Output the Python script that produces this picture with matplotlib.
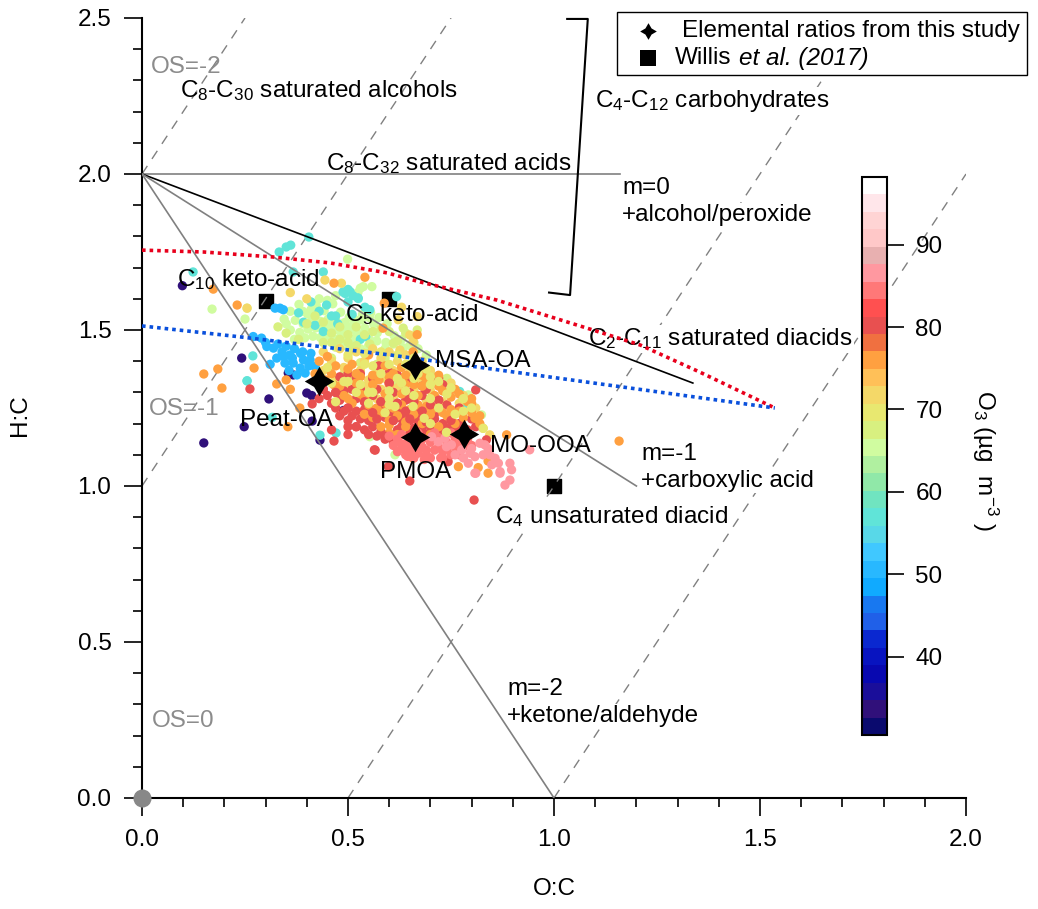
import numpy as np
import matplotlib
matplotlib.use('Agg')
import matplotlib.pyplot as plt
from matplotlib.colors import ListedColormap, Normalize
from matplotlib.patches import Rectangle
from matplotlib.path import Path
from matplotlib.ticker import MultipleLocator

plt.rcParams['font.family'] = ['Liberation Sans', 'DejaVu Sans']
plt.rcParams['mathtext.fontset'] = 'custom'
plt.rcParams['mathtext.rm'] = 'Liberation Sans'
plt.rcParams['mathtext.it'] = 'Liberation Sans:italic'
plt.rcParams['mathtext.default'] = 'regular'

# colour table, bottom to top
band_colors = ['#0a0a6e', '#30107a', '#1a0e9a', '#0808b0', '#0814c0', '#0a28d0', '#2060e8', '#1878f0',
               '#10aaff', '#28b8ff', '#40c8ff', '#58d8e8', '#60e4d8', '#70e4c0', '#90e8a8', '#b0f0a0',
               '#d0fca0', '#d8f080', '#e8e870', '#f4d868', '#ffc058', '#ffa040', '#f07040', '#e85050',
               '#ff5050', '#ff7878', '#ff98a0', '#e8b0b0', '#ffc8c8', '#ffd4d4', '#ffe6ea', '#ffffff']
o3_min = 30.5
o3_max = 98.2

# van Krevelen reference lines
m0_oc = [0, 1.16]
m0_hc = [2, 2]
m05_oc = [0, 1.337]
m05_hc = [2, 1.33]
m1_oc = [0, 1.2]
m1_hc = [2, 1.0]
m2_oc = [0, 1.0]
m2_hc = [2, 0.0]
os_lines_oc = [[0, 0.25], [0, 0.75], [0.5, 1.75], [1.0, 2.0]]
os_lines_hc = [[2, 2.5], [1, 2.5], [0, 2.5], [0, 2.0]]
bracket_oc = [1.032, 1.082, 1.039, 0.988]
bracket_hc = [2.497, 2.497, 1.612, 1.62]

red_oc = [0, 0.15, 0.318, 0.456, 0.595, 0.675, 0.861, 1.08, 1.209, 1.354, 1.536]
red_hc = [1.756, 1.75, 1.734, 1.715, 1.683, 1.654, 1.596, 1.506, 1.452, 1.365, 1.25]
blue_oc = [0, 0.238, 0.602, 1.08, 1.536]
blue_hc = [1.513, 1.478, 1.42, 1.333, 1.25]

star_oc = [0.43, 0.663, 0.663, 0.782]
star_hc = [1.337, 1.388, 1.157, 1.167]
willis_oc = [0.3, 0.6, 1.0]
willis_hc = [1.593, 1.6, 1.0]

# measured points, grouped by O3 level, in drawing order
oc_navy = [0.098, 0.242, 0.308, 0.15, 0.248, 0.413, 0.432, 0.355, 0.367, 0.4, 0.412, 0.489]
hc_navy = [1.642, 1.41, 1.279, 1.138, 1.19, 1.208, 1.147, 1.362, 1.356, 1.298, 1.29, 1.242]

oc_teal = [0.405, 0.333, 0.35, 0.361, 0.44, 0.367, 0.124, 0.255, 0.269, 0.488, 0.5, 0.512, 0.524, 0.505, 0.493,
           0.448, 0.541, 0.553, 0.541, 0.543, 0.618, 0.38, 0.41, 0.43, 0.46, 0.475, 0.392, 0.42, 0.525, 0.5,
           0.771, 0.78, 0.432, 0.471, 0.316, 0.255, 0.44, 0.47, 0.51, 0.53]
hc_teal = [1.798, 1.75, 1.766, 1.772, 1.686, 1.686, 1.686, 1.337, 1.417, 1.622, 1.63, 1.61, 1.603, 1.623, 1.617,
           1.58, 1.48, 1.565, 1.573, 1.479, 1.607, 1.555, 1.59, 1.56, 1.545, 1.52, 1.525, 1.515, 1.601, 1.59,
           1.303, 1.26, 1.163, 1.17, 1.22, 1.337, 1.495, 1.545, 1.55, 1.47]

oc_green = [0.36, 0.381, 0.402, 0.423, 0.442, 0.463, 0.482, 0.503, 0.372, 0.391, 0.413, 0.432, 0.452, 0.471, 0.492,
            0.513, 0.532, 0.552, 0.383, 0.403, 0.422, 0.443, 0.461, 0.481, 0.502, 0.521, 0.541, 0.562, 0.433, 0.451,
            0.472, 0.491, 0.512, 0.531, 0.553, 0.571, 0.592, 0.612, 0.634, 0.255, 0.25, 0.17, 0.53, 0.558, 0.499,
            0.824, 0.792, 0.614, 0.553, 0.537, 0.524, 0.345, 0.36, 0.37, 0.39, 0.41, 0.43, 0.45, 0.47, 0.35, 0.395,
            0.415, 0.435, 0.455, 0.475, 0.495, 0.515, 0.535, 0.555, 0.575, 0.595, 0.49, 0.51, 0.53, 0.55, 0.57,
            0.59, 0.61, 0.63, 0.65, 0.67, 0.69]
hc_green = [1.56, 1.582, 1.551, 1.578, 1.562, 1.584, 1.557, 1.541, 1.531, 1.52, 1.533, 1.528, 1.535, 1.529, 1.524,
            1.518, 1.532, 1.54, 1.492, 1.503, 1.507, 1.498, 1.505, 1.495, 1.5, 1.493, 1.506, 1.52, 1.476, 1.483,
            1.47, 1.478, 1.47, 1.476, 1.468, 1.491, 1.46, 1.482, 1.443, 1.57, 1.535, 1.567, 1.634, 1.639, 1.727,
            1.228, 1.292, 1.1, 1.158, 1.639, 1.62, 1.535, 1.5, 1.47, 1.56, 1.565, 1.6, 1.595, 1.61, 1.52, 1.475,
            1.48, 1.51, 1.52, 1.505, 1.51, 1.535, 1.55, 1.555, 1.54, 1.52, 1.45, 1.455, 1.44, 1.45, 1.465,
            1.44, 1.455, 1.47, 1.45, 1.44, 1.42]

oc_blue = [0.27, 0.29, 0.303, 0.319, 0.327, 0.311, 0.347, 0.367, 0.392, 0.384, 0.408, 0.359, 0.34, 0.42, 0.376, 0.357,
           0.396, 0.343, 0.335, 0.323, 0.3, 0.33, 0.35, 0.37, 0.39, 0.41, 0.345, 0.365, 0.385, 0.405]
hc_blue = [1.479, 1.474, 1.447, 1.442, 1.41, 1.39, 1.394, 1.394, 1.404, 1.378, 1.404, 1.42, 1.43, 1.383, 1.356, 1.37,
           1.362, 1.565, 1.57, 1.57, 1.46, 1.455, 1.448, 1.44, 1.43, 1.425, 1.415, 1.41, 1.425, 1.385]

oc_lime = [0.47, 0.51, 0.55, 0.59, 0.46, 0.53, 0.57, 0.65, 0.49, 0.61, 0.634, 0.668, 0.61, 0.553, 0.7, 0.74, 0.73, 0.66,
           0.38, 0.33, 0.35, 0.4, 0.42, 0.44, 0.46, 0.48, 0.5, 0.52, 0.54, 0.56, 0.58, 0.6, 0.62, 0.64, 0.66, 0.44,
           0.46, 0.48, 0.5, 0.52]
hc_lime = [1.445, 1.44, 1.425, 1.41, 1.41, 1.395, 1.39, 1.39, 1.36, 1.335, 1.506, 1.5, 1.458, 1.455, 1.36, 1.345, 1.305, 1.3,
           1.47, 1.51, 1.49, 1.52, 1.545, 1.525, 1.49, 1.51, 1.485, 1.51, 1.485, 1.495, 1.505, 1.495, 1.465, 1.49, 1.46, 1.46,
           1.46, 1.47, 1.46, 1.45]

oc_yellow = [0.44, 0.48, 0.52, 0.56, 0.6, 0.64, 0.46, 0.5, 0.54, 0.58, 0.62, 0.68, 0.44, 0.49, 0.53, 0.57, 0.61, 0.65,
             0.7, 0.47, 0.51, 0.55, 0.59, 0.63, 0.67, 0.71, 0.75, 0.5, 0.54, 0.58, 0.62, 0.66, 0.7, 0.74, 0.78, 0.57,
             0.61, 0.65, 0.69, 0.73, 0.77, 0.81, 0.255, 0.444, 0.63, 0.668, 0.622, 0.65, 0.658, 0.626, 0.776, 0.828,
             0.844, 0.36, 0.4, 0.484]
hc_yellow = [1.43, 1.44, 1.43, 1.44, 1.43, 1.42, 1.4, 1.41, 1.4, 1.41, 1.4, 1.4, 1.37, 1.38, 1.37, 1.375, 1.37, 1.365,
             1.37, 1.345, 1.35, 1.34, 1.345, 1.34, 1.335, 1.34, 1.33, 1.31, 1.32, 1.31, 1.315, 1.31, 1.305, 1.3, 1.29,
             1.28, 1.285, 1.28, 1.275, 1.27, 1.265, 1.25, 1.57, 1.66, 1.573, 1.543, 1.533, 1.484, 1.463, 1.436, 1.239,
             1.185, 1.164, 1.62, 1.6, 1.65]

oc_orange = [0.45, 0.47, 0.51, 0.55, 0.59, 0.63, 0.67, 0.72, 0.46, 0.52, 0.56, 0.6, 0.64, 0.68, 0.48, 0.52, 0.56, 0.6,
             0.64, 0.68, 0.72, 0.76, 0.49, 0.53, 0.59, 0.63, 0.67, 0.71, 0.75, 0.79, 0.51, 0.55, 0.59, 0.63, 0.67, 0.71,
             0.75, 0.54, 0.58, 0.62, 0.66, 0.7, 0.74, 0.78, 0.6, 0.64, 0.82, 0.173, 0.231, 0.15, 0.184, 0.194, 0.272,
             0.327, 0.354, 0.383, 0.35, 0.36, 0.466, 0.541, 0.588, 0.585, 0.668, 0.658, 0.8, 0.808, 0.885, 0.658,
             1.158, 0.84, 0.84, 0.768, 0.816, 0.43, 0.42, 0.445, 0.465, 0.5, 0.53, 0.575, 0.61, 0.66, 0.69, 0.73, 0.77,
             0.8, 0.5, 0.54, 0.57, 0.61, 0.65, 0.69, 0.73, 0.77, 0.8, 0.56, 0.6, 0.64, 0.68, 0.72, 0.76, 0.62, 0.66,
             0.7, 0.58, 0.6, 0.82]
hc_orange = [1.415, 1.385, 1.39, 1.42, 1.385, 1.38, 1.38, 1.355, 1.36, 1.36, 1.355, 1.35, 1.355, 1.355, 1.32, 1.33,
             1.325, 1.325, 1.325, 1.32, 1.32, 1.31, 1.29, 1.295, 1.295, 1.295, 1.29, 1.29, 1.285, 1.27, 1.265, 1.26,
             1.265, 1.26, 1.26, 1.25, 1.245, 1.23, 1.235, 1.225, 1.23, 1.23, 1.225, 1.22, 1.195, 1.19, 1.2, 1.631, 1.58,
             1.359, 1.375, 1.314, 1.378, 1.327, 1.19, 1.25, 1.34, 1.31, 1.65, 1.669, 1.586, 1.506, 1.485, 1.089, 1.265,
             1.217, 1.164, 1.43, 1.144, 1.041, 1.08, 1.062, 1.059, 1.4, 1.36, 1.34, 1.325, 1.375, 1.35, 1.34, 1.36, 1.325,
             1.34, 1.305, 1.295, 1.28, 1.28, 1.28, 1.25, 1.25, 1.245, 1.255, 1.235, 1.24, 1.235, 1.22, 1.21, 1.205, 1.2,
             1.19, 1.2, 1.165, 1.165, 1.165, 1.19, 1.17, 1.225]

oc_red = [0.44, 0.47, 0.43, 0.46, 0.48, 0.5, 0.52, 0.54, 0.56, 0.58, 0.6, 0.62, 0.64, 0.66, 0.68, 0.7, 0.72, 0.74, 0.52,
          0.54, 0.56, 0.58, 0.6, 0.62, 0.64, 0.66, 0.68, 0.72, 0.55, 0.57, 0.59, 0.61, 0.63, 0.65, 0.67, 0.69, 0.71, 0.73,
          0.75, 0.77, 0.54, 0.56, 0.58, 0.62, 0.66, 0.68, 0.7, 0.72, 0.74, 0.76, 0.48, 0.5, 0.52, 0.46, 0.5, 0.6, 0.56,
          0.52, 0.48, 0.65, 0.62, 0.262, 0.413, 0.466, 0.566, 0.564, 0.598, 0.65, 0.806, 0.743, 0.836, 0.81, 0.72, 0.68,
          0.45, 0.49, 0.51, 0.53, 0.47, 0.49, 0.51, 0.53, 0.5, 0.55, 0.57, 0.61, 0.63, 0.65, 0.67, 0.69, 0.71, 0.55,
          0.57, 0.59, 0.61, 0.63, 0.65, 0.69, 0.71, 0.73, 0.75, 0.77, 0.79, 0.57, 0.61, 0.65, 0.69, 0.73, 0.53, 0.575,
          0.6, 0.5, 0.77, 0.8, 0.81]
hc_red = [1.31, 1.3, 1.28, 1.265, 1.275, 1.25, 1.28, 1.27, 1.29, 1.27, 1.28, 1.265, 1.275, 1.27, 1.29, 1.26, 1.275, 1.26,
          1.24, 1.245, 1.235, 1.25, 1.24, 1.245, 1.24, 1.245, 1.24, 1.245, 1.21, 1.215, 1.22, 1.21, 1.215, 1.21, 1.205,
          1.21, 1.215, 1.2, 1.21, 1.2, 1.18, 1.19, 1.175, 1.18, 1.185, 1.18, 1.19, 1.175, 1.185, 1.18, 1.225, 1.21, 1.19,
          1.18, 1.165, 1.33, 1.345, 1.345, 1.35, 1.34, 1.355, 1.311, 1.263, 1.144, 1.115, 1.116, 1.062, 1.016, 0.955, 1.078,
          1.148, 1.308, 1.345, 1.32, 1.29, 1.305, 1.31, 1.31, 1.25, 1.24, 1.225, 1.215, 1.19, 1.25, 1.23, 1.23, 1.23, 1.225,
          1.225, 1.225, 1.23, 1.165, 1.16, 1.15, 1.14, 1.19, 1.17, 1.165, 1.15, 1.16, 1.19, 1.17, 1.18, 1.31, 1.3, 1.3, 1.31,
          1.325, 1.36, 1.385, 1.365, 1.36, 1.25, 1.215, 1.19]

oc_coral = [0.62, 0.64, 0.66, 0.68, 0.7, 0.72, 0.74, 0.76, 0.6, 0.63, 0.67, 0.71, 0.75, 0.65, 0.67, 0.69, 0.71, 0.73,
            0.63, 0.77, 0.79, 0.645, 0.685, 0.725, 0.63, 0.65, 0.67, 0.69, 0.61, 0.64, 0.66, 0.7, 0.74, 0.72, 0.76, 0.78,
            0.8, 0.62, 0.68, 0.75, 0.73, 0.77]
hc_coral = [1.15, 1.135, 1.15, 1.125, 1.14, 1.155, 1.14, 1.155, 1.16, 1.165, 1.17, 1.17, 1.17, 1.11, 1.105, 1.1, 1.115, 1.11,
            1.12, 1.135, 1.15, 1.095, 1.085, 1.09, 1.135, 1.125, 1.135, 1.115, 1.13, 1.1, 1.09, 1.09, 1.12, 1.125, 1.125, 1.125,
            1.13, 1.11, 1.15, 1.1, 1.09, 1.1]

oc_pink = [0.893, 0.897, 0.893, 0.881, 0.869, 0.865, 0.857, 0.849, 0.808, 0.792, 0.808, 0.828, 0.832, 0.82, 0.796, 0.776,
           0.76, 0.739, 0.719, 0.703, 0.735, 0.751, 0.844, 0.941, 0.81, 0.869, 0.78, 0.8, 0.84]
hc_pink = [1.073, 1.052, 1.019, 1.003, 1.046, 1.073, 1.089, 1.068, 1.041, 1.073, 1.094, 1.1, 1.132, 1.137, 1.105, 1.116,
           1.1, 1.126, 1.142, 1.158, 1.153, 1.132, 1.1, 1.116, 1.041, 1.041, 1.09, 1.12, 1.12]

oc_yellow2 = [0.739, 0.685, 0.658, 0.6, 0.64, 0.72, 0.78, 0.76, 0.55, 0.62, 0.58, 0.54, 0.5, 0.66, 0.7, 0.74, 0.47, 0.828,
              0.614, 0.7, 0.59, 0.53, 0.46, 0.49, 0.52, 0.56, 0.6, 0.63, 0.67, 0.69, 0.72, 0.75, 0.78, 0.8, 0.5, 0.54,
              0.58, 0.62, 0.66, 0.45, 0.56, 0.6, 0.64, 0.7, 0.55, 0.6, 0.7, 0.66]
hc_yellow2 = [1.172, 1.217, 1.255, 1.28, 1.305, 1.25, 1.24, 1.23, 1.3, 1.345, 1.36, 1.39, 1.335, 1.345, 1.325, 1.295, 1.27,
              1.185, 1.255, 1.2, 1.235, 1.325, 1.33, 1.335, 1.3, 1.3, 1.305, 1.33, 1.36, 1.375, 1.335, 1.315, 1.28, 1.25, 1.42,
              1.425, 1.43, 1.42, 1.41, 1.38, 1.385, 1.39, 1.39, 1.35, 1.265, 1.26, 1.28, 1.29]

# a few red points sit on top of the orange ones
oc_red2 = [0.44, 0.47, 0.5, 0.54, 0.58, 0.6, 0.62, 0.66, 0.7, 0.72, 0.56, 0.64, 0.52, 0.68, 0.57, 0.61, 0.65, 0.69, 0.75, 0.59]
hc_red2 = [1.31, 1.3, 1.25, 1.27, 1.27, 1.33, 1.265, 1.27, 1.26, 1.275, 1.235, 1.24, 1.19, 1.24, 1.215, 1.21, 1.215, 1.205, 1.21, 1.16]

point_groups = [(oc_navy, hc_navy, 33), (oc_green, hc_green, 65), (oc_teal, hc_teal, 58), (oc_lime, hc_lime, 68),
                (oc_yellow, hc_yellow, 71), (oc_blue, hc_blue, 51), (oc_red, hc_red, 80), (oc_orange, hc_orange, 75),
                (oc_red2, hc_red2, 80), (oc_coral, hc_coral, 84), (oc_pink, hc_pink, 87), (oc_yellow2, hc_yellow2, 70)]

# (left px, centre px, text, colour, white box)
labels = [(151, 67, 'OS=-2', '#8c8c8c', False),
          (180, 91, 'C$_8$-C$_{30}$ saturated alcohols', 'black', False),
          (595, 101, 'C$_4$-C$_{12}$ carbohydrates', 'black', True),
          (326, 164, 'C$_8$-C$_{32}$ saturated acids', 'black', False),
          (622, 188, 'm=0', 'black', True),
          (622, 215, '+alcohol/peroxide', 'black', True),
          (177, 280, 'C$_{10}$ keto-acid', 'black', False),
          (345, 315, 'C$_5$ keto-acid', 'black', False),
          (588, 339, 'C$_2$-C$_{11}$ saturated diacids', 'black', True),
          (435, 361, 'MSA-OA', 'black', False),
          (149, 409, 'OS=-1', '#8c8c8c', False),
          (240, 420, 'Peat-OA', 'black', False),
          (490, 446, 'MO-OOA', 'black', False),
          (380, 472, 'PMOA', 'black', False),
          (641, 454, 'm=-1', 'black', True),
          (641, 481, '+carboxylic acid', 'black', True),
          (495, 517, 'C$_4$ unsaturated diacid', 'black', True),
          (507, 689, 'm=-2', 'black', True),
          (507, 716, '+ketone/aldehyde', 'black', True),
          (152, 721, 'OS=0', '#8c8c8c', False)]

W, H = 1038, 909
fs = 17.5
fig = plt.figure(figsize=(W / 100, H / 100), dpi=100)
ax = fig.add_axes([142 / W, 1 - 798 / H, (966 - 142) / W, (798 - 18) / H])
ax.set_xlim(0, 2)
ax.set_ylim(0, 2.5)

for s in ['top', 'right']:
    ax.spines[s].set_visible(False)
for s in ['left', 'bottom']:
    ax.spines[s].set_linewidth(1.5)
ax.xaxis.set_major_locator(MultipleLocator(0.5))
ax.xaxis.set_minor_locator(MultipleLocator(0.1))
ax.yaxis.set_major_locator(MultipleLocator(0.5))
ax.yaxis.set_minor_locator(MultipleLocator(0.1))
ax.xaxis.set_major_formatter('{x:.1f}')
ax.yaxis.set_major_formatter('{x:.1f}')
ax.tick_params(which='major', length=13, width=1.2, labelsize=fs, pad=9)
ax.tick_params(which='minor', length=6.5, width=1.2)

fig.text(554 / W, 1 - 889 / H, 'O:C', fontsize=fs, ha='center', va='center')
fig.text(20 / W, 1 - 415 / H, 'H:C', fontsize=fs, ha='center', va='center', rotation=90)

ax.scatter(willis_oc, willis_hc, marker='s', s=100, color='black', zorder=1)
for x, y in zip(os_lines_oc, os_lines_hc):
    ax.plot(x, y, color='#808080', lw=1, ls=(0, (7, 6)), zorder=2)

cmap = ListedColormap(band_colors)
norm = Normalize(o3_min, o3_max)
for oc, hc, o3 in point_groups:
    sc = ax.scatter(oc, hc, c=[o3] * len(oc), cmap=cmap, norm=norm, s=45, linewidths=0, zorder=3)

ax.plot(m0_oc, m0_hc, color='#808080', lw=1.2, zorder=4)
ax.plot(m05_oc, m05_hc, color='black', lw=1.2, zorder=4)
ax.plot(m1_oc, m1_hc, color='#808080', lw=1.2, zorder=4)
ax.plot(m2_oc, m2_hc, color='#808080', lw=1.2, zorder=4)
ax.plot(bracket_oc, bracket_hc, color='black', lw=1.5, clip_on=False, zorder=4)
ax.plot(red_oc, red_hc, color='#e8001c', lw=2.6, ls=(0, (1, 1.1)), zorder=5)
ax.plot(blue_oc, blue_hc, color='#0a50dc', lw=2.6, ls=(0, (1, 1.1)), zorder=5)
star = Path.unit_regular_star(4, innerCircle=0.52)
ax.scatter(star_oc, star_hc, marker=star, s=450, color='black', linewidths=0, zorder=6)
ax.plot([0], [0], 'o', ms=13, color='#888888', mew=0, clip_on=False, zorder=7)

for px, py, txt, col, box in labels:
    kw = dict(facecolor='white', edgecolor='none', pad=1) if box else None
    ax.text(px / W, 1 - py / H, txt, transform=fig.transFigure, fontsize=fs, color=col,
            ha='left', va='center', bbox=kw, zorder=2.5 if box else 8)

# legend box drawn by hand, the italic part does not fit a plain legend label
ax.add_patch(Rectangle((617 / W, 1 - 75 / H), 410 / W, 63 / H, transform=fig.transFigure, facecolor='white',
                       edgecolor='black', lw=1, clip_on=False, zorder=9))
ax.plot([648 / W], [1 - 31 / H], transform=fig.transFigure, ls='none', marker=star, ms=12, color='black', mew=0,
        clip_on=False, zorder=10)
ax.plot([648 / W], [1 - 58 / H], transform=fig.transFigure, ls='none', marker='s', ms=11.5, color='black', mew=0,
        clip_on=False, zorder=10)
ax.text(682 / W, 1 - 31 / H, 'Elemental ratios from this study', transform=fig.transFigure, fontsize=fs,
        ha='left', va='center', zorder=10)
ax.text(675 / W, 1 - 58 / H, 'Willis', transform=fig.transFigure, fontsize=fs, ha='left', va='center', zorder=10)
ax.text(739 / W, 1 - 58 / H, 'et al. (2017)', transform=fig.transFigure, fontsize=fs, style='italic',
        ha='left', va='center', zorder=10)

cax = fig.add_axes([862 / W, 1 - 735 / H, 25 / W, 558 / H])
cb = fig.colorbar(sc, cax=cax)
cb.set_ticks([40, 50, 60, 70, 80, 90])
cb.ax.tick_params(length=12.5, width=1.2, labelsize=fs, pad=8)
cb.ax.minorticks_off()
cb.outline.set_linewidth(1.5)
fig.text(985 / W, 1 - 460 / H, 'O$_3$ (µg  m$^{-3}$ )', fontsize=fs, rotation=270, ha='center', va='center')

fig.savefig('out.png', dpi=100)
